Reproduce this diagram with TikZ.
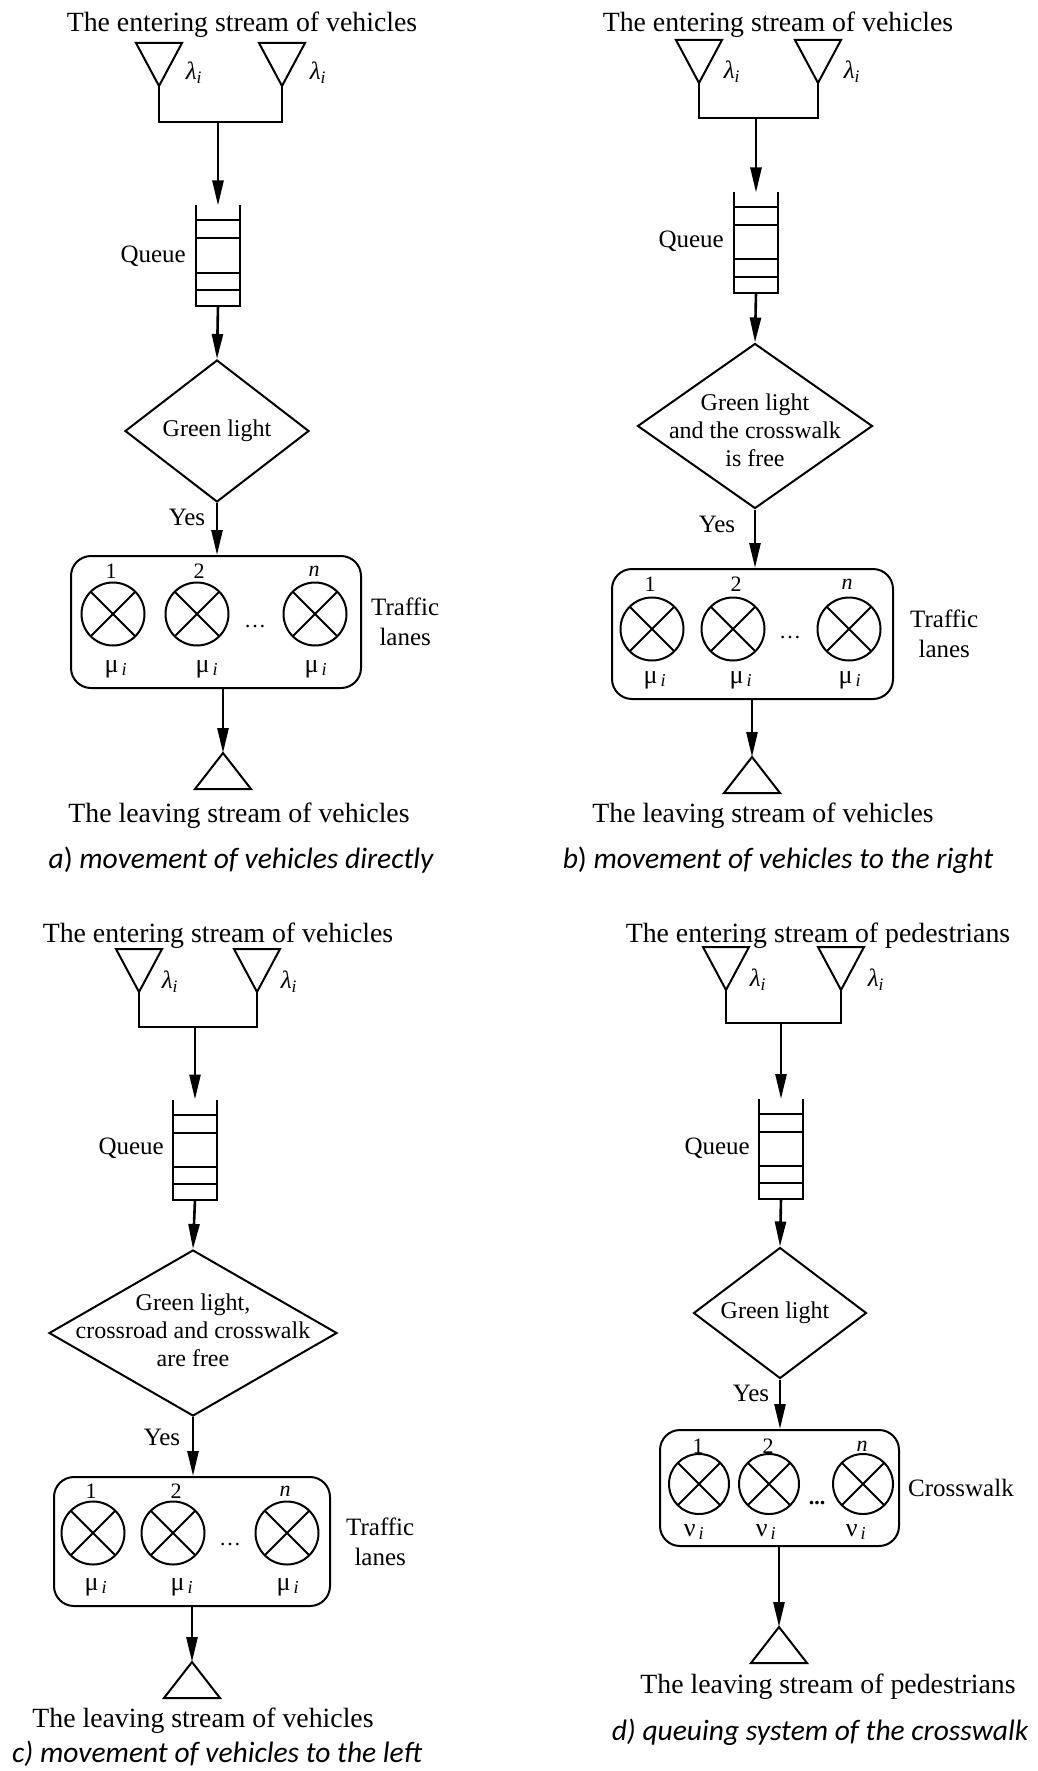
\documentclass[tikz,border=0pt]{standalone}
\usepackage{fontspec}
\setmainfont{Liberation Serif}
\newfontfamily\capfont{Carlito}
\usetikzlibrary{arrows.meta,positioning,shapes.geometric}

\begin{document}
\begin{tikzpicture}[x=1pt,y=-1pt,
  line/.style={line width=2pt},
  flow/.style={line width=2.6pt,-{Triangle[length=25pt,width=11pt]}},
  head/.style={font=\fontsize{27.8}{33}\selectfont,anchor=base,inner sep=0pt},
  capt/.style={font=\capfont\itshape\fontsize{29.5}{35}\selectfont,anchor=base,inner sep=0pt},
  lbl/.style={font=\fontsize{25}{30}\selectfont,inner sep=0pt},
  side/.style={font=\fontsize{25}{30}\selectfont,align=center,inner sep=0pt},
  arr/.style={font=\fontsize{25}{30}\selectfont,inner sep=0pt},
  rate/.style={font=\fontsize{26}{30}\selectfont,inner sep=0pt},
  num/.style={font=\fontsize{22}{26}\selectfont,inner sep=0pt},
  decision/.style={diamond,draw,line width=2pt,inner sep=0pt},
  dtext/.style={font=\fontsize{24}{28}\selectfont,align=center,inner sep=0pt},
  lanes/.style={draw,line width=2pt,rounded corners=20pt,inner sep=0pt},
  server/.style={circle,draw,line width=2pt,minimum size=63pt,inner sep=0pt,
    path picture={\draw[line width=2pt]
      (path picture bounding box.north west) -- (path picture bounding box.south east)
      (path picture bounding box.north east) -- (path picture bounding box.south west);}},
  src/.pic={\draw[line] (0,0) -- (-23,-43) -- (23,-43) -- cycle;},
  sink/.pic={\draw[line] (0,0) -- (-28,36) -- (28,36) -- cycle;},
  queue/.pic={
    \draw[line] (-22,-50) -- (-22,50) -- (22,50) -- (22,-50);
    \draw[line] (-22,-35) -- (22,-35);
    \draw[line] (-22,-17) -- (22,-17);
    \draw[line] (-22,17) -- (22,17);
    \draw[line] (-22,34) -- (22,34);
    \coordinate (-top) at (0,-50);
    \coordinate (-bot) at (0,50);}]

  \useasboundingbox (0,0) rectangle (1037,1771);

  % a) movement of vehicles directly
  \node[head] (in-a) at (242,32) {The entering stream of vehicles};
  \coordinate (i-a1) at (159,86);
  \coordinate (i-a2) at (282,86);
  \pic at (i-a1) {src};
  \pic at (i-a2) {src};
  \node[arr] (l-a1) at (194,73) {\textit{λ}\textsubscript{\textit{i}}};
  \node[arr] (l-a2) at (318,73) {\textit{λ}\textsubscript{\textit{i}}};
  \coordinate (j-a) at (218,122);
  \draw[line] (i-a1) |- (j-a) -| (i-a2);
  \pic (q-a) at (218,255.5) {queue};
  \node[lbl,anchor=east] (ql-a) at (186,256) {Queue};
  \node[decision,minimum width=184pt,minimum height=142pt,
        label={[dtext,name=dt-a]center:Green light}] (dec-a) at (217,431) {};
  \node[lbl] (y-a) at (187,517) {Yes};
  \node[lanes,minimum width=290pt,minimum height=132pt] (box-a) at (216,622) {};
  \node[server] (s-a1) at (113,614) {};
  \node[server] (s-a2) at (197,614) {};
  \node[server] (s-a3) at (315,614) {};
  \node[num] (n-a1) at (111,571) {1};
  \node[num] (n-a2) at (199,571) {2};
  \node[num] (n-a3) at (314,571) {\textit{n}};
  \node[rate] (m-a1) at (116,669) {μ\textsubscript{\,\textit{i}}};
  \node[rate] (m-a2) at (207,669) {μ\textsubscript{\,\textit{i}}};
  \node[rate] (m-a3) at (316,669) {μ\textsubscript{\,\textit{i}}};
  \node[num] (dots-a) at (255,627) {\dots};
  \node[side,right=9pt of box-a] (tl-a) {Traffic\\lanes};
  \coordinate (o-a) at (223,753);
  \pic at (o-a) {sink};
  \node[head] (out-a) at (239,822) {The leaving stream of vehicles};
  \node[capt] (cap-a) at (241,868) {a\textup{)} movement of vehicles directly};
  \draw[flow] (j-a) -- (q-a-top);
  \draw[flow] (q-a-bot) -- (dec-a.north);
  \draw[flow] (dec-a.south) -- (dec-a.south |- box-a.north);
  \draw[flow] (box-a.south -| o-a) -- (o-a);

  % b) movement of vehicles to the right
  \node[head] (in-b) at (778,32) {The entering stream of vehicles};
  \coordinate (i-b1) at (699,83);
  \coordinate (i-b2) at (818,83);
  \pic at (i-b1) {src};
  \pic at (i-b2) {src};
  \node[arr] (l-b1) at (732,72) {\textit{λ}\textsubscript{\textit{i}}};
  \node[arr] (l-b2) at (852,72) {\textit{λ}\textsubscript{\textit{i}}};
  \coordinate (j-b) at (756,118);
  \draw[line] (i-b1) |- (j-b) -| (i-b2);
  \pic (q-b) at (756,242.5) {queue};
  \node[lbl,anchor=east] (ql-b) at (724,241) {Queue};
  \node[decision,minimum width=235pt,minimum height=165pt,
        label={[dtext,name=dt-b,yshift=-4pt]center:Green light\\and the crosswalk\\is free}] (dec-b) at (755,426) {};
  \node[lbl] (y-b) at (717,524) {Yes};
  \node[lanes,minimum width=281pt,minimum height=130pt] (box-b) at (752.5,634) {};
  \node[server] (s-b1) at (652,629) {};
  \node[server] (s-b2) at (733,629) {};
  \node[server] (s-b3) at (849,629) {};
  \node[num] (n-b1) at (650,584) {1};
  \node[num] (n-b2) at (736,584) {2};
  \node[num] (n-b3) at (847,584) {\textit{n}};
  \node[rate] (m-b1) at (655,680) {μ\textsubscript{\,\textit{i}}};
  \node[rate] (m-b2) at (741,680) {μ\textsubscript{\,\textit{i}}};
  \node[rate] (m-b3) at (850,680) {μ\textsubscript{\,\textit{i}}};
  \node[num] (dots-b) at (790,638) {\dots};
  \node[side,right=16pt of box-b] (tl-b) {Traffic\\lanes};
  \coordinate (o-b) at (752,757);
  \pic at (o-b) {sink};
  \node[head] (out-b) at (763,822) {The leaving stream of vehicles};
  \node[capt] (cap-b) at (778,868) {b\textup{)} movement of vehicles to the right};
  \draw[flow] (j-b) -- (q-b-top);
  \draw[flow] (q-b-bot) -- (dec-b.north);
  \draw[flow] (dec-b.south) -- (dec-b.south |- box-b.north);
  \draw[flow] (box-b.south -| o-b) -- (o-b);

  % c) movement of vehicles to the left
  \node[head] (in-c) at (218,942) {The entering stream of vehicles};
  \coordinate (i-c1) at (139,992);
  \coordinate (i-c2) at (257,992);
  \pic at (i-c1) {src};
  \pic at (i-c2) {src};
  \node[arr] (l-c1) at (170,982) {\textit{λ}\textsubscript{\textit{i}}};
  \node[arr] (l-c2) at (289,982) {\textit{λ}\textsubscript{\textit{i}}};
  \coordinate (j-c) at (195,1027);
  \draw[line] (i-c1) |- (j-c) -| (i-c2);
  \pic (q-c) at (195,1149.5) {queue};
  \node[lbl,anchor=east] (ql-c) at (164,1148) {Queue};
  \node[decision,minimum width=288pt,minimum height=166pt,
        label={[dtext,name=dt-c,yshift=3pt]center:Green light,\\crossroad and crosswalk\\are free}] (dec-c) at (193,1333) {};
  \node[lbl] (y-c) at (162,1437) {Yes};
  \node[lanes,minimum width=276pt,minimum height=129pt] (box-c) at (192,1541.5) {};
  \node[server] (s-c1) at (93,1533) {};
  \node[server] (s-c2) at (173,1533) {};
  \node[server] (s-c3) at (287,1533) {};
  \node[num] (n-c1) at (91,1491) {1};
  \node[num] (n-c2) at (176,1491) {2};
  \node[num] (n-c3) at (285,1491) {\textit{n}};
  \node[rate] (m-c1) at (96,1587) {μ\textsubscript{\,\textit{i}}};
  \node[rate] (m-c2) at (182,1587) {μ\textsubscript{\,\textit{i}}};
  \node[rate] (m-c3) at (288,1587) {μ\textsubscript{\,\textit{i}}};
  \node[num] (dots-c) at (230,1544) {\dots};
  \node[side,right=15pt of box-c] (tl-c) {Traffic\\lanes};
  \coordinate (o-c) at (192,1662);
  \pic at (o-c) {sink};
  \node[head] (out-c) at (203,1727) {The leaving stream of vehicles};
  \node[capt] (cap-c) at (217,1762) {c) movement of vehicles to the left};
  \draw[flow] (j-c) -- (q-c-top);
  \draw[flow] (q-c-bot) -- (dec-c.north);
  \draw[flow] (dec-c.south) -- (dec-c.south |- box-c.north);
  \draw[flow] (box-c.south -| o-c) -- (o-c);

  % d) queuing system of the crosswalk
  \node[head] (in-d) at (818,942) {The entering stream of pedestrians};
  \coordinate (i-d1) at (726,990);
  \coordinate (i-d2) at (841,990);
  \pic at (i-d1) {src};
  \pic at (i-d2) {src};
  \node[arr] (l-d1) at (758,980) {\textit{λ}\textsubscript{\textit{i}}};
  \node[arr] (l-d2) at (876,980) {\textit{λ}\textsubscript{\textit{i}}};
  \coordinate (j-d) at (781,1023);
  \draw[line] (i-d1) |- (j-d) -| (i-d2);
  \pic (q-d) at (781,1149) {queue};
  \node[lbl,anchor=east] (ql-d) at (750,1148) {Queue};
  \node[decision,minimum width=173pt,minimum height=131pt,
        label={[dtext,name=dt-d,xshift=-5pt]center:Green light}] (dec-d) at (780,1313) {};
  \node[lbl] (y-d) at (751,1393) {Yes};
  \node[lanes,minimum width=239pt,minimum height=116pt] (box-d) at (779.5,1488) {};
  \node[server,minimum size=60pt] (s-d1) at (699,1484) {};
  \node[server,minimum size=60pt] (s-d2) at (769,1484) {};
  \node[server,minimum size=60pt] (s-d3) at (863,1484) {};
  \node[num] (n-d1) at (698,1446) {1};
  \node[num] (n-d2) at (768,1446) {2};
  \node[num] (n-d3) at (862,1446) {\textit{n}};
  \node[rate] (m-d1) at (694,1532) {ν\textsubscript{\,\textit{i}}};
  \node[rate] (m-d2) at (766,1532) {ν\textsubscript{\,\textit{i}}};
  \node[rate] (m-d3) at (856,1532) {ν\textsubscript{\,\textit{i}}};
  \node[num] (dots-d) at (817,1503) {\textbf{...}};
  \node[side,right=8pt of box-d] (cw-d) {Crosswalk};
  \coordinate (o-d) at (779,1627);
  \pic at (o-d) {sink};
  \node[head] (out-d) at (828,1693) {The leaving stream of pedestrians};
  \node[capt] (cap-d) at (820,1740) {d) queuing system of the crosswalk};
  \draw[flow] (j-d) -- (q-d-top);
  \draw[flow] (q-d-bot) -- (dec-d.north);
  \draw[flow] (dec-d.south) -- (dec-d.south |- box-d.north);
  \draw[flow] (box-d.south -| o-d) -- (o-d);
\end{tikzpicture}
\end{document}
